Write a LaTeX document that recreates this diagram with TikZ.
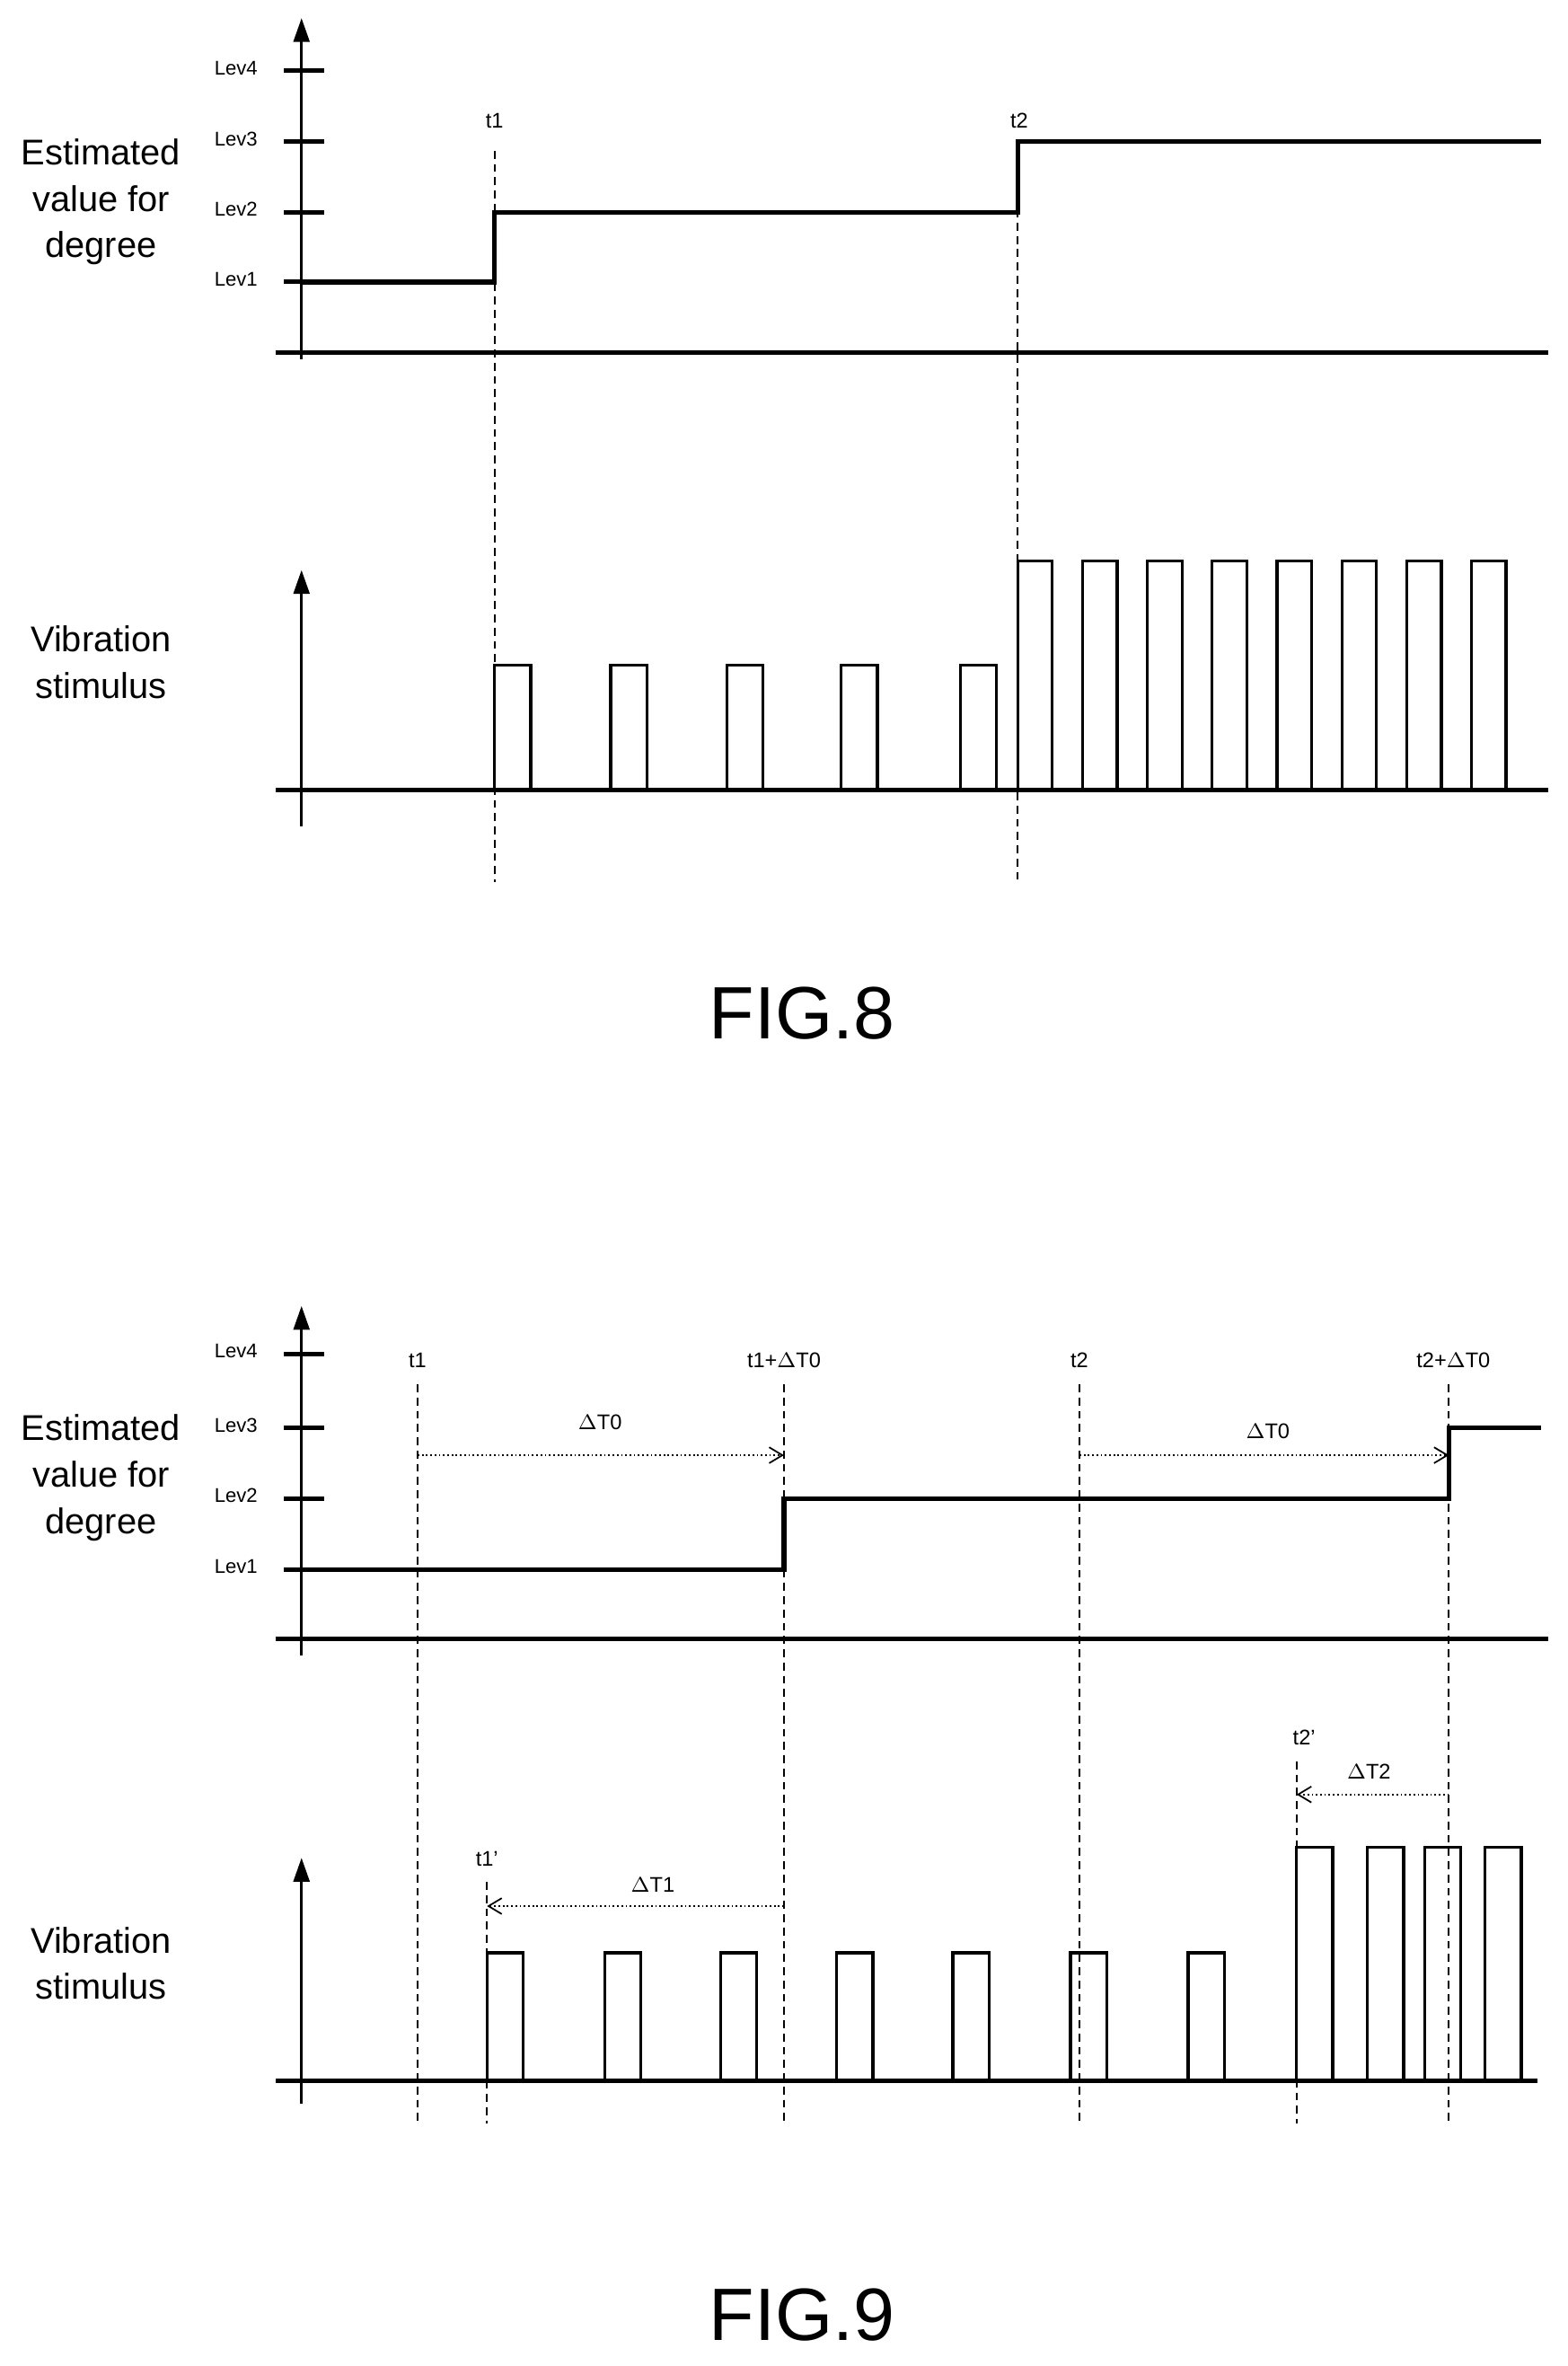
\documentclass[tikz,border=0pt]{standalone}
\usepackage{fontspec}
\setmainfont{Liberation Sans}
\usetikzlibrary{arrows.meta}
\tikzset{
  axis/.style={line width=1.1pt, -{Triangle[width=6pt,length=9pt]}},
  base/.style={line width=1.7pt},
  sig/.style={line width=1.8pt},
  pulse/.style={line width=1.1pt},
  tline/.style={line width=0.6pt, dash pattern=on 3pt off 2pt},
  span/.style={line width=0.6pt, densely dotted, -{Straight Barb[length=5pt,width=6pt]}},
  lev/.style={font=\fontsize{7.5}{9}\selectfont, anchor=east},
  tlab/.style={font=\fontsize{8}{10}\selectfont},
  ylab/.style={font=\fontsize{13.5}{17.5}\selectfont, align=center},
  fig/.style={font=\fontsize{28}{32}\selectfont}
}
\begin{document}
\begin{tikzpicture}[x=0.02cm, y=-0.02cm]
  \useasboundingbox (0,0) rectangle (1040,1569);

  % FIG.8 upper chart
  \draw[axis] (200,238) -- (200,12);
  \draw[base] (183,234) -- (1027,234);
  \foreach \n/\y in {4/47, 3/94, 2/141, 1/187} {
    \draw[base] (188,\y) -- (215,\y);
    \node[lev] (a8lev\n) at (177,\y-2) {Lev\n};
  }
  \node[ylab] (a8y) at (67,134) {Estimated\\value for\\degree};
  \draw[sig] (200,187) -- (328,187) -- (328,141) -- (675,141) -- (675,94) -- (1022,94);
  \draw[tline] (328,100) -- (328,585);
  \draw[tline] (675,95) -- (675,585);
  \node[tlab] (a8t1) at (328,80) {t1};
  \node[tlab] (a8t2) at (676,80) {t2};

  % FIG.8 lower chart
  \draw[axis] (200,548) -- (200,378);
  \draw[base] (183,524) -- (1027,524);
  \node[ylab] (a8v) at (67,439) {Vibration\\stimulus};
  \foreach \x in {328, 405, 482, 558, 637}
    \draw[pulse] (\x,524) -- (\x,441) -- (\x+24,441) -- (\x+24,524);
  \foreach \x in {675, 718, 761, 804, 847, 890, 933, 976}
    \draw[pulse] (\x,524) -- (\x,372) -- (\x+23,372) -- (\x+23,524);
  \node[fig] (fig8) at (532,672) {FIG.8};

  % FIG.9 upper chart
  \draw[axis] (200,1098) -- (200,866);
  \draw[base] (183,1087) -- (1027,1087);
  \foreach \n/\y in {4/898, 3/947, 2/994, 1/1041} {
    \draw[base] (188,\y) -- (215,\y);
    \node[lev] (a9lev\n) at (177,\y-2) {Lev\n};
  }
  \node[ylab] (a9y) at (67,980) {Estimated\\value for\\degree};
  \draw[sig] (200,1041) -- (520,1041) -- (520,994) -- (961,994) -- (961,947) -- (1022,947);
  \foreach \x in {277, 520, 716, 961}
    \draw[tline] (\x,918) -- (\x,1408);
  \node[tlab] (a9t1) at (277,902) {t1};
  \node[tlab] (a9t1d) at (520,902) {t1+$\Delta$T0};
  \node[tlab] (a9t2) at (716,902) {t2};
  \node[tlab] (a9t2d) at (964,902) {t2+$\Delta$T0};
  \coordinate (d0a) at (277,965);
  \coordinate (d0b) at (520,965);
  \coordinate (d0c) at (716,965);
  \coordinate (d0d) at (961,965);
  \draw[span] (d0a) -- (d0b);
  \draw[span] (d0c) -- (d0d);
  \node[tlab] (a9dt0a) at (398,943) {$\Delta$T0};
  \node[tlab] (a9dt0b) at (841,949) {$\Delta$T0};

  % FIG.9 lower chart
  \draw[axis] (200,1395) -- (200,1232);
  \draw[base] (183,1380) -- (1020,1380);
  \node[ylab] (a9v) at (67,1302) {Vibration\\stimulus};
  \draw[tline] (323,1248) -- (323,1408);
  \draw[tline] (860,1168) -- (860,1408);
  \node[tlab] (a9t1p) at (323,1233) {t1'};
  \node[tlab] (a9t2p) at (865,1152) {t2'};
  \coordinate (d1a) at (520,1264);
  \coordinate (d1b) at (323,1264);
  \coordinate (d2a) at (961,1190);
  \coordinate (d2b) at (860,1190);
  \draw[span] (d1a) -- (d1b);
  \draw[span] (d2a) -- (d2b);
  \node[tlab] (a9dt1) at (433,1250) {$\Delta$T1};
  \node[tlab] (a9dt2) at (908,1175) {$\Delta$T2};
  \foreach \x in {323, 401, 478, 555, 632, 710, 788}
    \draw[pulse] (\x,1380) -- (\x,1295) -- (\x+24,1295) -- (\x+24,1380);
  \foreach \x in {860, 907, 945, 985}
    \draw[pulse] (\x,1380) -- (\x,1225) -- (\x+24,1225) -- (\x+24,1380);
  \node[fig] (fig9) at (532,1535) {FIG.9};
\end{tikzpicture}
\end{document}
